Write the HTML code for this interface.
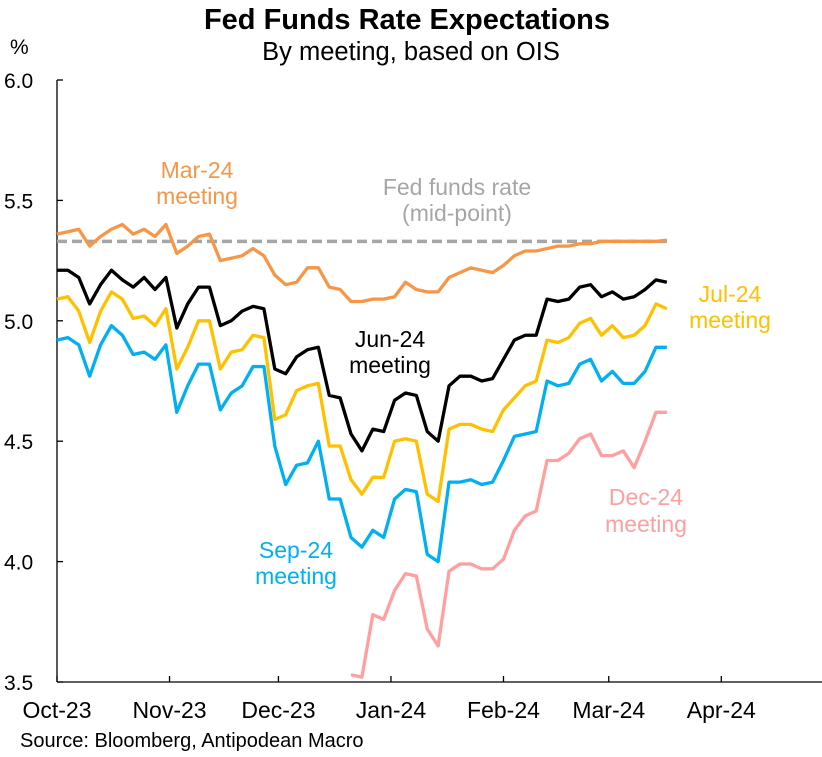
<!DOCTYPE html>
<html><head><meta charset="utf-8"><style>
body{margin:0;background:#fff;}
svg text{font-family:"Liberation Sans",Arial,sans-serif;}
</style></head><body>
<svg id="chart" width="822" height="752" viewBox="0 0 822 752" xmlns="http://www.w3.org/2000/svg">
<text x="407" y="29" text-anchor="middle" font-size="29" font-weight="bold">Fed Funds Rate Expectations</text>
<text x="411" y="60" text-anchor="middle" font-size="25.5">By meeting, based on OIS</text>
<text x="10" y="54" font-size="21">%</text>
<g id="axes"></g>
<g id="series"></g>
<text fill="#F79646" font-size="23" text-anchor="middle"><tspan x="197" y="178">Mar-24</tspan><tspan x="197" y="204">meeting</tspan></text>
<text fill="#A6A6A6" font-size="23" text-anchor="middle"><tspan x="457" y="195">Fed funds rate</tspan><tspan x="457" y="221">(mid-point)</tspan></text>
<text fill="#000" font-size="23" text-anchor="middle"><tspan x="390" y="347">Jun-24</tspan><tspan x="390" y="373">meeting</tspan></text>
<text fill="#FFC000" font-size="23" text-anchor="middle"><tspan x="730" y="302">Jul-24</tspan><tspan x="730" y="328">meeting</tspan></text>
<text fill="#FF9F9F" font-size="23" text-anchor="middle"><tspan x="646" y="505">Dec-24</tspan><tspan x="646" y="532">meeting</tspan></text>
<text fill="#00B0F0" font-size="23" text-anchor="middle"><tspan x="296" y="558">Sep-24</tspan><tspan x="296" y="584">meeting</tspan></text>
<text x="20" y="747" font-size="20">Source: Bloomberg, Antipodean Macro</text>
</svg>
<script>
const days = [0,3,6,9,12,15,18,21,24,27,30,33,36,39,42,45,48,51,54,57,60,63,66,69,72,75,78,81,84,87,90,93,96,99,102,105,108,111,114,117,120,123,126,129,132,135,138,141,144,147,150,153,156,159,162,165,168];
const mar24 = [5.36,5.37,5.38,5.31,5.35,5.38,5.40,5.36,5.38,5.35,5.40,5.28,5.31,5.35,5.36,5.25,5.26,5.27,5.30,5.27,5.19,5.15,5.16,5.22,5.22,5.14,5.13,5.08,5.08,5.09,5.09,5.10,5.16,5.13,5.12,5.12,5.18,5.20,5.22,5.21,5.20,5.23,5.27,5.29,5.29,5.30,5.31,5.31,5.32,5.32,5.33,5.33,5.33,5.33,5.33,5.33,5.335];
const jun24 = [5.21,5.21,5.18,5.07,5.15,5.21,5.17,5.14,5.18,5.13,5.18,4.97,5.07,5.14,5.14,4.98,5.00,5.04,5.06,5.05,4.80,4.78,4.85,4.88,4.89,4.69,4.68,4.53,4.46,4.55,4.54,4.67,4.70,4.69,4.54,4.50,4.73,4.77,4.77,4.75,4.76,4.84,4.92,4.94,4.94,5.09,5.08,5.09,5.14,5.15,5.10,5.12,5.09,5.10,5.13,5.17,5.16];
const jul24 = [5.09,5.10,5.04,4.91,5.04,5.12,5.09,5.01,5.02,4.98,5.05,4.80,4.89,5.00,5.00,4.80,4.87,4.88,4.94,4.93,4.59,4.61,4.71,4.73,4.74,4.48,4.48,4.34,4.28,4.35,4.35,4.50,4.51,4.50,4.28,4.25,4.55,4.57,4.57,4.55,4.54,4.63,4.68,4.73,4.75,4.92,4.91,4.93,4.99,5.01,4.94,4.98,4.93,4.94,4.98,5.07,5.05];
const sep24 = [4.92,4.93,4.90,4.77,4.90,4.98,4.94,4.86,4.87,4.84,4.90,4.62,4.73,4.82,4.82,4.63,4.70,4.73,4.81,4.81,4.48,4.32,4.40,4.41,4.50,4.26,4.26,4.10,4.06,4.13,4.10,4.26,4.30,4.29,4.03,4.00,4.33,4.33,4.34,4.32,4.33,4.42,4.52,4.53,4.54,4.75,4.73,4.74,4.82,4.84,4.75,4.79,4.74,4.74,4.79,4.89,4.89];
const decDays = [81,84,87,90,93,96,99,102,105,108,111,114,117,120,123,126,129,132,135,138,141,144,147,150,153,156,159,162,165,168];
const dec24 = [3.53,3.52,3.78,3.76,3.88,3.95,3.94,3.72,3.65,3.96,3.99,3.99,3.97,3.97,4.01,4.13,4.19,4.21,4.42,4.42,4.45,4.51,4.53,4.44,4.44,4.46,4.39,4.50,4.62,4.62];
const fedFundsRate = 5.33;
const yTicks = [3.5,4.0,4.5,5.0,5.5,6.0];
const monthLabels = ["Oct-23","Nov-23","Dec-23","Jan-24","Feb-24","Mar-24","Apr-24"];
const monthStartDays = [0,31,61,92,123,152,183];

const NS="http://www.w3.org/2000/svg";
const X0=57, X1=822, Y0=682, Y1=80;
const xs=d=>X0+d*3.63;
const ys=v=>Y0-(v-3.5)/(6.0-3.5)*(Y0-Y1);
function mk(tag,attrs,parent){const e=document.createElementNS(NS,tag);for(const k in attrs)e.setAttribute(k,attrs[k]);parent.appendChild(e);return e;}
const axes=document.getElementById('axes'), ser=document.getElementById('series');
const ya=mk('line',{x1:X0,y1:Y1,x2:X0,y2:Y0,stroke:'#000','stroke-width':1.3},axes);


const xa=mk('line',{x1:X0,y1:Y0,x2:X1,y2:Y0,stroke:'#000','stroke-width':1.3},axes);


yTicks.forEach(v=>{
  const t=mk('line',{x1:X0,y1:ys(v),x2:X0+6,y2:ys(v),stroke:'#000','stroke-width':1.3},axes);
  
  
  const l=mk('text',{x:4,y:ys(v)+8,'font-size':21},axes);
  l.textContent=v.toFixed(1);
  
  
});
monthLabels.forEach((m,i)=>{
  const x=xs(monthStartDays[i]);
  const t=mk('line',{x1:x,y1:Y0,x2:x,y2:Y0-6,stroke:'#000','stroke-width':1.3},axes);
  
  
  const l=mk('text',{x:x,y:718,'font-size':23,'text-anchor':'middle'},axes);
  l.textContent=m;
  
  
});
const ff=mk('line',{x1:xs(days[0]),y1:ys(fedFundsRate),x2:xs(days[days.length-1]),y2:ys(fedFundsRate),stroke:'#A6A6A6','stroke-width':3.5,'stroke-dasharray':'10 5'},ser);


function line(dd,vals,color,name){
  const p=mk('polyline',{points:dd.map((d,i)=>xs(d)+','+ys(vals[i])).join(' '),fill:'none',stroke:color,'stroke-width':3.3,'stroke-linejoin':'round'},ser);
  
  
}
line(days,mar24,'#F79646','mar24-series');
line(decDays,dec24,'#FF9F9F','dec24-series');
line(days,sep24,'#00B0F0','sep24-series');
line(days,jul24,'#FFC000','jul24-series');
line(days,jun24,'#000000','jun24-series');
</script>
</body></html>
